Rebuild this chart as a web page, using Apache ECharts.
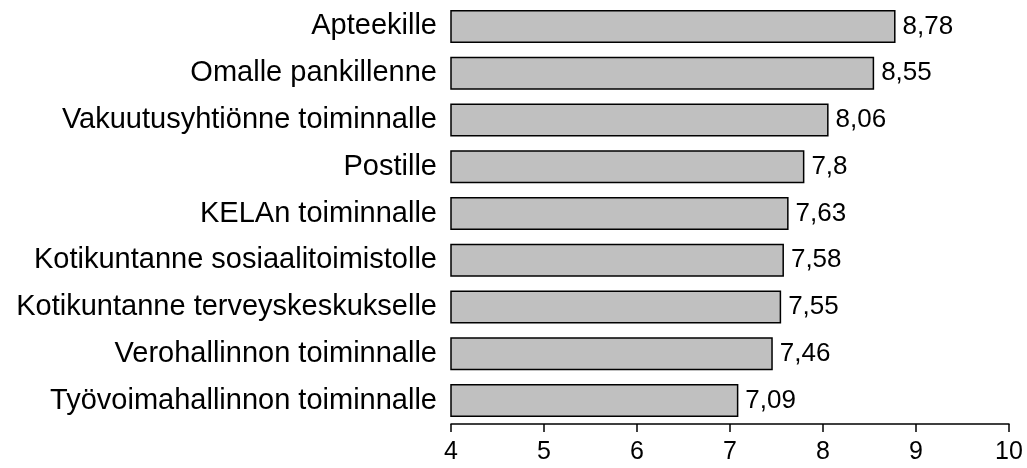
<!DOCTYPE html>
<html><head><meta charset="utf-8">
<script src="https://cdn.jsdelivr.net/npm/echarts@6/dist/echarts.min.js"></script>
<style>html,body{margin:0;padding:0;background:#fff}#c{width:1027px;height:468px}</style>
</head><body><div id="c"></div>
<script>
const categories = ["Apteekille","Omalle pankillenne","Vakuutusyhtiönne toiminnalle","Postille","KELAn toiminnalle","Kotikuntanne sosiaalitoimistolle","Kotikuntanne terveyskeskukselle","Verohallinnon toiminnalle","Työvoimahallinnon toiminnalle"];
const values = [8.78,8.55,8.06,7.8,7.63,7.58,7.55,7.46,7.09];
const xTicks = [4,5,6,7,8,9,10];

const chart = echarts.init(document.getElementById('c'));
const font = 'Liberation Sans, Arial, sans-serif';
chart.setOption({
  animation:false,
  grid:{left:451,right:18,top:3,bottom:44,containLabel:false},
  xAxis:{type:'value',min:xTicks[0],max:xTicks[xTicks.length-1],interval:1,
    axisLine:{show:true,lineStyle:{color:'#000',width:1.5}},
    axisTick:{show:true,length:8,lineStyle:{color:'#000',width:1.5}},
    splitLine:{show:false},
    axisLabel:{color:'#000',fontSize:25,fontFamily:font,margin:16}},
  yAxis:{type:'category',data:categories,inverse:true,
    axisLine:{show:false},axisTick:{show:false},
    axisLabel:{color:'#000',fontSize:29,fontFamily:font,margin:14}},
  series:[{type:'bar',data:values,barWidth:33,
    itemStyle:{color:'#c0c0c0',borderColor:'#000',borderWidth:1.5},
    label:{show:true,position:'right',distance:7,color:'#000',fontSize:26,fontFamily:font,
      formatter:p=>String(p.value).replace('.',',')}}]
});
</script></body></html>
